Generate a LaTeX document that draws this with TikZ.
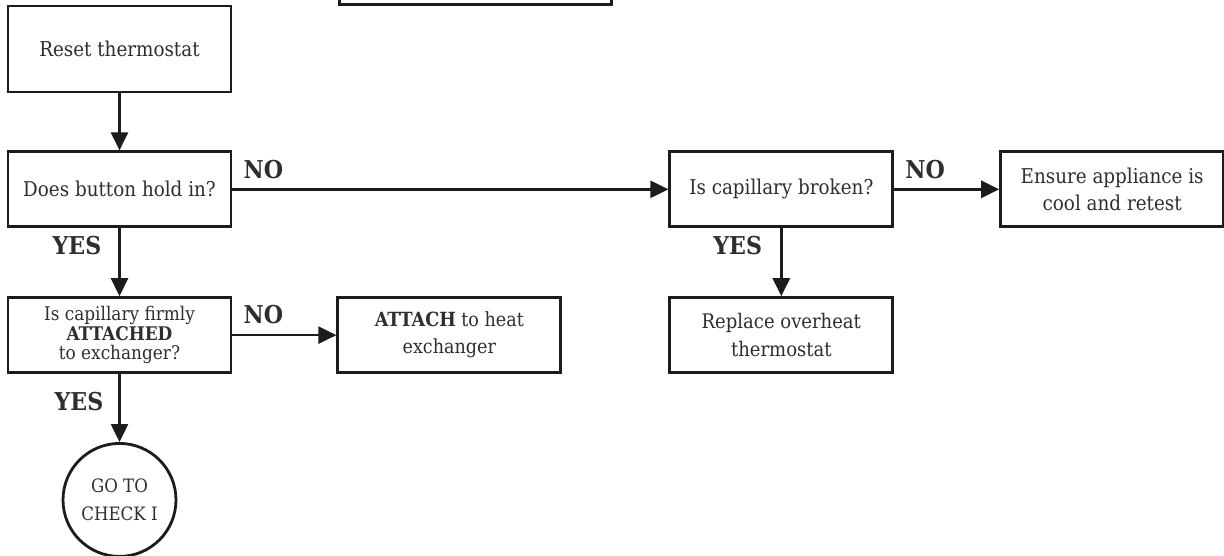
\documentclass[tikz,border=0pt]{standalone}
\usepackage{fontspec}
\setmainfont{DejaVu Serif Condensed}
\usetikzlibrary{positioning,arrows.meta}
\definecolor{ink}{HTML}{1C1C1C}
\definecolor{txt}{HTML}{2E2E2E}
\tikzset{
  box/.style={rectangle,draw=ink,line width=1.6pt,fill=white,text=txt,
    align=center,minimum width=4.46cm,minimum height=1.5cm,inner sep=2pt,
    font=\fontsize{11.6}{15.5}\selectfont},
  endcirc/.style={circle,draw=ink,line width=1.6pt,fill=white,text=txt,
    align=center,minimum size=2.26cm,inner sep=0pt,
    font=\fontsize{10.5}{16}\selectfont},
  ar/.style={-{Triangle[length=0.36cm,width=0.34cm]},line width=1.4pt,draw=ink},
  lbl/.style={font=\fontsize{14}{16}\selectfont\bfseries,text=txt,inner sep=0pt},
}

\begin{document}
\begin{tikzpicture}[node distance=1.36cm and 2.08cm]
  \useasboundingbox (0,0) rectangle (24.48,-11.12);
  \node[box,minimum width=5.44cm,anchor=south west] (prev) at (6.76,-0.12) {};
  \node[box,minimum height=1.72cm] (reset) at (2.39,-0.98) {Reset thermostat};
  \node[box,below=1.14cm of reset] (hold) {Does button hold in?};
  \node[box,below=of hold,font=\fontsize{10.7}{11}\selectfont] (firm) {Is capillary firmly\\\textbf{ATTACHED}\\to exchanger?};
  \node[endcirc,below=of firm] (goto) {GO TO\\CHECK I};
  \node[box,right=of firm,font=\fontsize{11.1}{15.5}\selectfont] (attach) {\textbf{ATTACH} to heat\\exchanger};
  \node[box,right=8.72cm of hold] (broken) {Is capillary broken?};
  \node[box,right=2.10cm of broken] (ensure) {Ensure appliance is\\cool and retest};
  \node[box,below=of broken,font=\fontsize{11.4}{16}\selectfont] (replace) {Replace overheat\\thermostat};
  \draw[ar] (reset) -- (hold);
  \draw[ar] (hold) -- (broken) node[pos=0,lbl,anchor=south west,xshift=0.2cm,yshift=0.18cm]{NO};
  \draw[ar] (broken) -- (ensure) node[pos=0,lbl,anchor=south west,xshift=0.2cm,yshift=0.18cm]{NO};
  \draw[ar] (hold) -- (firm) node[pos=0,lbl,anchor=north east,xshift=-0.34cm,yshift=-0.14cm]{YES};
  \draw[ar] (firm) -- (attach) node[pos=0,lbl,anchor=south west,xshift=0.2cm,yshift=0.2cm]{NO};
  \draw[ar] (firm) -- (goto) node[pos=0,lbl,anchor=north east,xshift=-0.3cm,yshift=-0.34cm]{YES};
  \draw[ar] (broken) -- (replace) node[pos=0,lbl,anchor=north east,xshift=-0.36cm,yshift=-0.14cm]{YES};
\end{tikzpicture}
\end{document}
